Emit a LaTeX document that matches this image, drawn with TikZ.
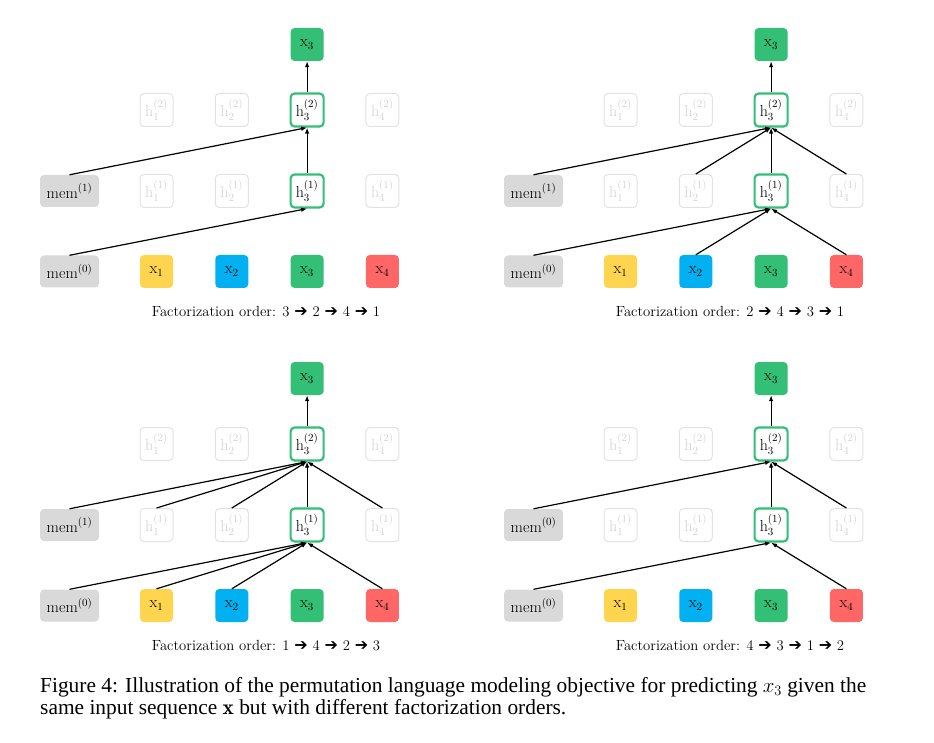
\documentclass[tikz,border=0pt]{standalone}
\usepackage{fontspec}
\usepackage{amsmath}
\usetikzlibrary{arrows.meta,positioning}
\newfontfamily\capfont{Liberation Serif}
\newfontfamily\symfont{DejaVu Sans}

\definecolor{memgray}{HTML}{D9D9D9}
\definecolor{tokyellow}{HTML}{FFD54F}
\definecolor{tokblue}{HTML}{00B0F0}
\definecolor{tokgreen}{HTML}{33BF76}
\definecolor{tokred}{HTML}{FF6666}
\definecolor{fadegray}{HTML}{E2E2E2}
\definecolor{fadetext}{HTML}{D2D2D2}

\tikzset{
  box/.style={rectangle, rounded corners=4pt, minimum width=33pt, minimum height=33pt,
    inner sep=0pt, font=\fontsize{16}{16}\selectfont},
  membox/.style={box, fill=memgray, minimum width=59pt, minimum height=32pt},
  tok/.style={box, fill=#1},
  hid/.style={box, draw=fadegray, line width=1pt, text=fadetext},
  act/.style={box, draw=tokgreen, line width=2.2pt, fill=white},
  order/.style={font=\fontsize{14.7}{15}\selectfont, inner sep=0pt},
  conn/.style={-{Latex[length=6pt,width=4.5pt]}, line width=1.2pt},
}

\newcommand{\ar}{{\symfont\fontsize{16}{16}\selectfont ➔}}

% #1 prefix, #2/#3 shift, #4 upper mem index, #5 order
\newcommand{\drawpanel}[5]{%
  \begin{scope}[shift={(#2,#3)}]
    \node[membox] (#1m0) at (69.5,271.5) {$\mathrm{mem}^{(0)}$};
    \node[membox] (#1m1) at (69.5,191)   {$\mathrm{mem}^{(#4)}$};
    \foreach \i/\c in {1/tokyellow,2/tokblue,3/tokgreen,4/tokred}
      \node[tok=\c] (#1x\i) at ({156.5+75.3*(\i-1)},271.5) {$\mathrm{x}_{\i}$};
    \foreach \i in {1,2,4} {
      \node[hid] (#1h1\i) at ({156.5+75.3*(\i-1)},191) {$\mathrm{h}_{\i}^{(1)}$};
      \node[hid] (#1h2\i) at ({156.5+75.3*(\i-1)},110) {$\mathrm{h}_{\i}^{(2)}$};
    }
    \node[act] (#1h13) at (307.1,191) {$\mathrm{h}_3^{(1)}$};
    \node[act] (#1h23) at (307.1,110) {$\mathrm{h}_3^{(2)}$};
    \node[tok=tokgreen] (#1y) at (307.1,44.5) {$\mathrm{x}_3$};
    \node[order] (#1cap) at (266,311.5) {Factorization order: #5};
  \end{scope}}

\begin{document}
\begin{tikzpicture}[x=1pt,y=-1pt]
  \useasboundingbox (0,0) rectangle (934,743);

  \drawpanel{a}{0}{0}{1}{3 \ar{} 2 \ar{} 4 \ar{} 1}
  \drawpanel{b}{464}{0}{1}{2 \ar{} 4 \ar{} 3 \ar{} 1}
  \drawpanel{c}{0}{334}{1}{1 \ar{} 4 \ar{} 2 \ar{} 3}
  \drawpanel{d}{464}{334}{0}{4 \ar{} 3 \ar{} 1 \ar{} 2}

  \foreach \from/\to in {am0/ah13, am1/ah23, ah13/ah23, ah23/ay,
      bm0/bh13, bx2/bh13, bx4/bh13, bm1/bh23, bh12/bh23, bh13/bh23, bh14/bh23, bh23/by,
      cm0/ch13, cx1/ch13, cx2/ch13, cx4/ch13,
      cm1/ch23, ch11/ch23, ch12/ch23, ch13/ch23, ch14/ch23, ch23/cy,
      dm0/dh13, dx4/dh13, dm1/dh23, dh13/dh23, dh14/dh23, dh23/dy}
    \draw[conn] (\from.north) -- (\to.south);

  \node[anchor=north west, align=left, inner sep=0pt,
        font=\capfont\fontsize{21.4}{22.5}\selectfont] (caption) at (40,677)
    {Figure 4: Illustration of the permutation language modeling objective for predicting $x_3$ given the\\
     same input sequence $\mathbf{x}$ but with different factorization orders.};
\end{tikzpicture}
\end{document}
